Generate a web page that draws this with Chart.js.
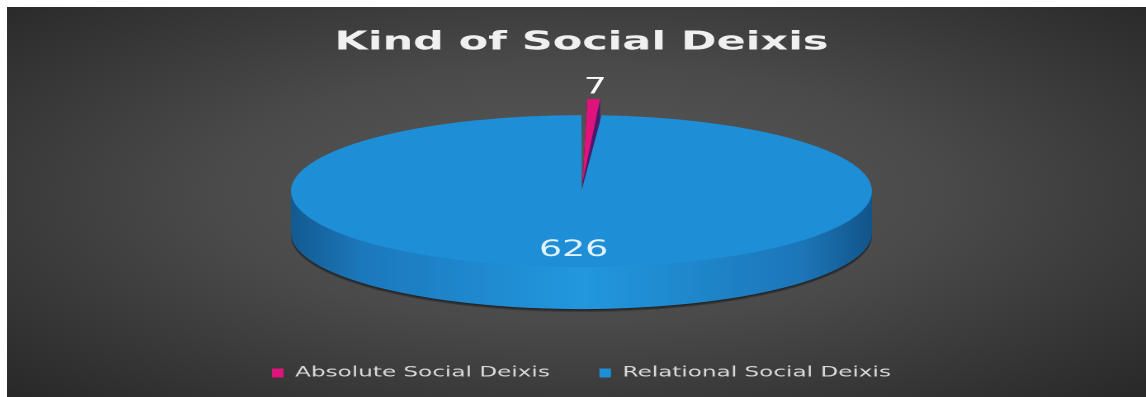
<!DOCTYPE html>
<html lang="en">
<head>
<meta charset="UTF-8">
<title>Kind of Social Deixis</title>
<script src="https://cdn.jsdelivr.net/npm/chart.js"></script>
<style>
    html, body { margin: 0; background: #fff; }
    #box {
        position: absolute; left: 7px; top: 7px; width: 1139px; height: 390px;
        background: radial-gradient(ellipse at 50% 48%, #5a5a5a 0%, #4a4a4a 45%, #282828 100%);
    }
</style>
</head>
<body>
<div id="box">
    <!-- drawn narrow, then stretched wide like the original picture -->
    <canvas id="myChart" width="690" height="390" style="width:1139px;height:390px;"></canvas>
</div>
<script>
    const categories = ['Absolute Social Deixis', 'Relational Social Deixis'];
    const counts = [7, 626];
    const faceColors = ['#e0137c', '#1e8ed6'];

    // 3d look of the pie (canvas units)
    const PIE_RX = 176, PIE_RY = 76, PIE_DEPTH = 42, PIE_SHIFT = -6;
    const labelRadius = [1.36, 0.78];

    function pieFrame(chart) {
        const el = chart.getDatasetMeta(0).data[0];
        const R = el.outerRadius;
        return { cx: el.x, cy: el.y, R: R, sx: PIE_RX / R, sy: PIE_RY / R };
    }

    function setTilt(ctx, f, dy) {
        ctx.translate(f.cx, f.cy + PIE_SHIFT + dy);
        ctx.scale(f.sx, f.sy);
        ctx.translate(-f.cx, -f.cy);
    }

    const tiltPlugin = {
        id: 'tilt',
        beforeDatasetsDraw(chart) {
            const ctx = chart.ctx;
            const f = pieFrame(chart);
            const arcs = chart.getDatasetMeta(0).data;

            const blueSide = ctx.createLinearGradient(f.cx - f.R, 0, f.cx + f.R, 0);
            blueSide.addColorStop(0, '#135a90');
            blueSide.addColorStop(0.12, '#1c78bc');
            blueSide.addColorStop(0.5, '#2298df');
            blueSide.addColorStop(0.88, '#1c76b8');
            blueSide.addColorStop(1, '#12558a');
            const sides = ['#4a1c6c', blueSide];

            // side walls: each slice pushed down layer by layer
            arcs.forEach((el, i) => {
                const saved = el.options;
                for (let d = PIE_DEPTH + 3; d >= 1; d--) {
                    ctx.save();
                    setTilt(ctx, f, d);
                    el.options = Object.assign({}, saved, {
                        backgroundColor: d > PIE_DEPTH ? 'rgba(0,0,0,0.22)' : sides[i]
                    });
                    el.draw(ctx);
                    ctx.restore();
                }
                el.options = saved;
            });

            ctx.save();
            setTilt(ctx, f, 0);
        },
        afterDatasetsDraw(chart) {
            const ctx = chart.ctx;
            ctx.restore();
            const f = pieFrame(chart);
            const arcs = chart.getDatasetMeta(0).data;
            ctx.save();
            ctx.font = '22px "DejaVu Sans"';
            ctx.textAlign = 'center';
            ctx.textBaseline = 'middle';
            arcs.forEach((el, i) => {
                const mid = (el.startAngle + el.endAngle) / 2;
                const r = f.R * labelRadius[i];
                const x = f.cx + Math.cos(mid) * r * f.sx;
                const y = f.cy + PIE_SHIFT + Math.sin(mid) * r * f.sy;
                ctx.fillStyle = i === 0 ? '#ffffff' : '#e2f2ff';
                ctx.fillText(String(counts[i]), x, y);
            });
            ctx.restore();
        }
    };

    Chart.defaults.font.family = '"DejaVu Sans"';

    let ctx = document.getElementById('myChart');
    let myChart = new Chart(ctx, {
        type: 'pie',
        data: {
            labels: categories,
            datasets: [{
                data: counts,
                backgroundColor: faceColors,
                borderWidth: 0,
                offset: [50, 0],
                clip: false
            }]
        },
        options: {
            responsive: false,
            devicePixelRatio: 2,
            animation: false,
            events: [],
            layout: { padding: { left: 6, bottom: 7 } },
            plugins: {
                title: {
                    display: true,
                    text: 'Kind of Social Deixis',
                    color: '#f0f0f0',
                    font: { size: 26, weight: 'bold' },
                    padding: { top: 20, bottom: 0 }
                },
                legend: {
                    position: 'bottom',
                    labels: {
                        color: '#d9d9d9',
                        font: { size: 14 },
                        boxWidth: 7,
                        boxHeight: 9,
                        padding: 30
                    }
                },
                tooltip: { enabled: false }
            }
        },
        plugins: [tiltPlugin]
    });
</script>
</body>
</html>
